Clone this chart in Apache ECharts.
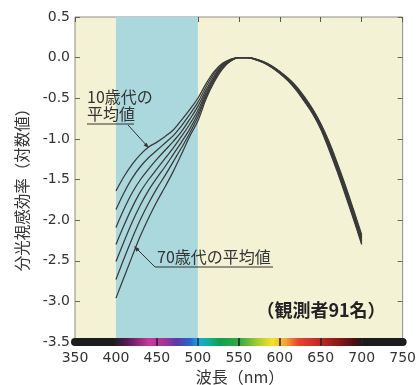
<!DOCTYPE html>
<html><head><meta charset="utf-8">
<script src="https://cdn.jsdelivr.net/npm/echarts@6/dist/echarts.min.js"></script>
<style>html,body{margin:0;padding:0;background:#fff}#c{width:419px;height:385px}</style>
</head><body><div id="c"></div>
<script>
// wavelengths (nm)
var wavelengths = [400,410,420,430,440,450,460,470,480,490,500,510,520,530,540,550,560,570,580,590,600,610,620,630,640,650,660,670,680,690,700];
// log spectral luminous efficiency, seven age groups (10s .. 70s)
var age10 = [-1.64,-1.46,-1.31,-1.19,-1.10,-1.04,-0.97,-0.89,-0.77,-0.64,-0.50,-0.32,-0.17,-0.07,-0.02,0.00,0.00,-0.015,-0.05,-0.10,-0.17,-0.25,-0.35,-0.48,-0.63,-0.81,-1.03,-1.29,-1.57,-1.87,-2.18];
var age20 = [-1.87,-1.66,-1.48,-1.34,-1.23,-1.14,-1.05,-0.96,-0.84,-0.70,-0.55,-0.36,-0.19,-0.08,-0.02,0.00,0.00,-0.017,-0.052,-0.105,-0.175,-0.26,-0.36,-0.49,-0.64,-0.82,-1.05,-1.31,-1.59,-1.89,-2.20];
var age30 = [-2.09,-1.86,-1.66,-1.50,-1.37,-1.25,-1.14,-1.03,-0.91,-0.76,-0.60,-0.40,-0.22,-0.09,-0.03,0.00,0.00,-0.018,-0.054,-0.108,-0.178,-0.265,-0.37,-0.50,-0.65,-0.83,-1.06,-1.33,-1.61,-1.91,-2.22];
var age40 = [-2.30,-2.06,-1.84,-1.65,-1.50,-1.37,-1.24,-1.11,-0.97,-0.82,-0.65,-0.43,-0.24,-0.10,-0.03,0.00,0.00,-0.02,-0.056,-0.11,-0.18,-0.27,-0.38,-0.51,-0.66,-0.84,-1.08,-1.35,-1.63,-1.93,-2.24];
var age50 = [-2.51,-2.26,-2.02,-1.81,-1.63,-1.48,-1.34,-1.19,-1.04,-0.88,-0.69,-0.46,-0.26,-0.11,-0.04,0.00,0.00,-0.021,-0.058,-0.113,-0.185,-0.275,-0.385,-0.52,-0.67,-0.86,-1.10,-1.37,-1.65,-1.95,-2.26];
var age60 = [-2.73,-2.47,-2.22,-1.99,-1.79,-1.61,-1.45,-1.28,-1.11,-0.93,-0.73,-0.48,-0.28,-0.12,-0.04,0.00,0.00,-0.022,-0.06,-0.116,-0.19,-0.28,-0.39,-0.53,-0.68,-0.87,-1.11,-1.38,-1.67,-1.97,-2.28];
var age70 = [-2.96,-2.70,-2.44,-2.19,-1.97,-1.77,-1.59,-1.40,-1.19,-0.97,-0.78,-0.51,-0.30,-0.14,-0.04,0.00,0.00,-0.024,-0.062,-0.12,-0.195,-0.285,-0.40,-0.54,-0.69,-0.88,-1.13,-1.40,-1.69,-1.99,-2.30];
var xTicks = [350,400,450,500,550,600,650,700,750];
var yTicks = [0.5,0.0,-0.5,-1.0,-1.5,-2.0,-2.5,-3.0,-3.5];
var blueBand = [400,500];

var chart = echarts.init(document.getElementById('c'), null, {renderer:'canvas'});
var groups = [age10,age20,age30,age40,age50,age60,age70];
var GL = 75, GR = 15, GT = 17, GB = 43;
var W = 419, H = 385;
var x0 = GL, x1 = W - GR;

var spectrum = {
  type:'linear', global:true, x:x0, y:0, x2:x1, y2:0,
  colorStops:[
    {offset:0,color:'#1c1c1c'},{offset:0.115,color:'#1c1c1c'},
    {offset:0.16,color:'#5a1a5a'},{offset:0.225,color:'#c8389a'},
    {offset:0.27,color:'#a83498'},{offset:0.31,color:'#5a3aa8'},
    {offset:0.35,color:'#2a64cc'},{offset:0.375,color:'#14a8e8'},
    {offset:0.40,color:'#12b0a4'},{offset:0.44,color:'#12a04e'},
    {offset:0.50,color:'#34a844'},{offset:0.56,color:'#b0d030'},
    {offset:0.60,color:'#f6e028'},{offset:0.64,color:'#f4a434'},
    {offset:0.68,color:'#e44432'},{offset:0.74,color:'#c42a2a'},
    {offset:0.80,color:'#8a1818'},{offset:0.85,color:'#4a1010'},
    {offset:0.87,color:'#1c1c1c'},{offset:1,color:'#1c1c1c'}
  ]
};

var series = groups.map(function(vals, i){
  var s = {
    type:'line', xAxisIndex:0, yAxisIndex:0,
    data: wavelengths.map(function(w,k){return [w, vals[k]];}),
    smooth:0.35, symbol:'none', silent:true,
    lineStyle:{color:'#3a3a3a', width:1.25},
    z:5
  };
  if (i === 0) {
    s.markArea = {silent:true, itemStyle:{color:'#aad8dc', opacity:1},
      data:[[{xAxis:blueBand[0]},{xAxis:blueBand[1]}]]};
  }
  return s;
});

var axisFont = {fontFamily:'DejaVu Sans', fontSize:14, color:'#333'};
var cjk = '"Noto Sans CJK JP", sans-serif';

chart.setOption({
  animation:false,
  grid:{left:GL, right:GR, top:GT, bottom:GB, show:true, backgroundColor:'#f4f2d4', borderColor:'#8c8c8c', borderWidth:1},
  xAxis:[
    {type:'value', min:350, max:750, interval:50, position:'bottom',
     axisLine:{show:true, onZero:false, lineStyle:{color:spectrum, width:8}},
     axisTick:{show:false}, splitLine:{show:false},
     axisLabel:Object.assign({margin:9, formatter:function(v){return xTicks.indexOf(v)>=0?String(v):'';}}, axisFont), z:3},
    {type:'value', min:350, max:750, interval:50, position:'top',
     axisLine:{show:false, onZero:false}, axisTick:{show:true, inside:true, length:5, lineStyle:{color:'#555'}},
     axisLabel:{show:false}, splitLine:{show:false}},
    {type:'value', min:350, max:750, interval:50, position:'bottom', offset:-4,
     axisLine:{show:false, onZero:false}, axisTick:{show:true, inside:false, length:8, lineStyle:{color:'#222', width:1.5},
       interval:function(idx, v){return v>=450 && v<=650;}},
     axisLabel:{show:false}, splitLine:{show:false}, z:4}
  ],
  yAxis:[
    {type:'value', min:-3.5, max:0.5, interval:0.5, position:'left',
     axisLine:{show:false, onZero:false}, axisTick:{show:true, inside:true, length:5, lineStyle:{color:'#666'}},
     splitLine:{show:false},
     axisLabel:Object.assign({margin:5, formatter:function(v){return v.toFixed(1);}}, axisFont)},
    {type:'value', min:-3.5, max:0.5, interval:0.5, position:'right',
     axisLine:{show:false, onZero:false}, axisTick:{show:true, inside:true, length:5, lineStyle:{color:'#666'}},
     splitLine:{show:false}, axisLabel:{show:false}}
  ],
  series:series,
  graphic:[
    {type:'text', x:22, y:186, rotation:Math.PI/2, z:100,
     style:{text:'分光視感効率（対数値）', font:'15.5px '+cjk, fill:'#333', align:'center', verticalAlign:'middle'}},
    {type:'text', x:240, y:377, z:100,
     style:{text:'波長（nm）', font:'16px '+cjk, fill:'#333', align:'center', verticalAlign:'middle'}},
    {type:'text', x:87, y:97, z:100,
     style:{text:'10歳代の', font:'16px '+cjk, fill:'#333', align:'left', verticalAlign:'middle'}},
    {type:'text', x:87, y:114, z:100,
     style:{text:'平均値', font:'16px '+cjk, fill:'#333', align:'left', verticalAlign:'middle'}},
    {type:'polyline', shape:{points:[[87,124],[134,124]]}, style:{stroke:'#333', lineWidth:1}, z:100},
    {type:'polyline', shape:{points:[[128,125],[148,147]]}, style:{stroke:'#333', lineWidth:1}, z:100},
    {type:'polygon', shape:{points:[[149,148],[143.5,145.5],[146.5,142.8]]}, style:{fill:'#333'}, z:100},
    {type:'text', x:157, y:257, z:100,
     style:{text:'70歳代の平均値', font:'16px '+cjk, fill:'#333', align:'left', verticalAlign:'middle'}},
    {type:'polyline', shape:{points:[[135,247],[155,267],[273,267]]}, style:{stroke:'#333', lineWidth:1}, z:100},
    {type:'polygon', shape:{points:[[134,246],[136.5,251.7],[139.5,249]]}, style:{fill:'#333'}, z:100},
    {type:'text', x:321, y:310, z:100,
     style:{text:'（観測者91名）', font:'bold 18px '+cjk, fill:'#222', align:'center', verticalAlign:'middle'}}
  ]
});
</script></body></html>
